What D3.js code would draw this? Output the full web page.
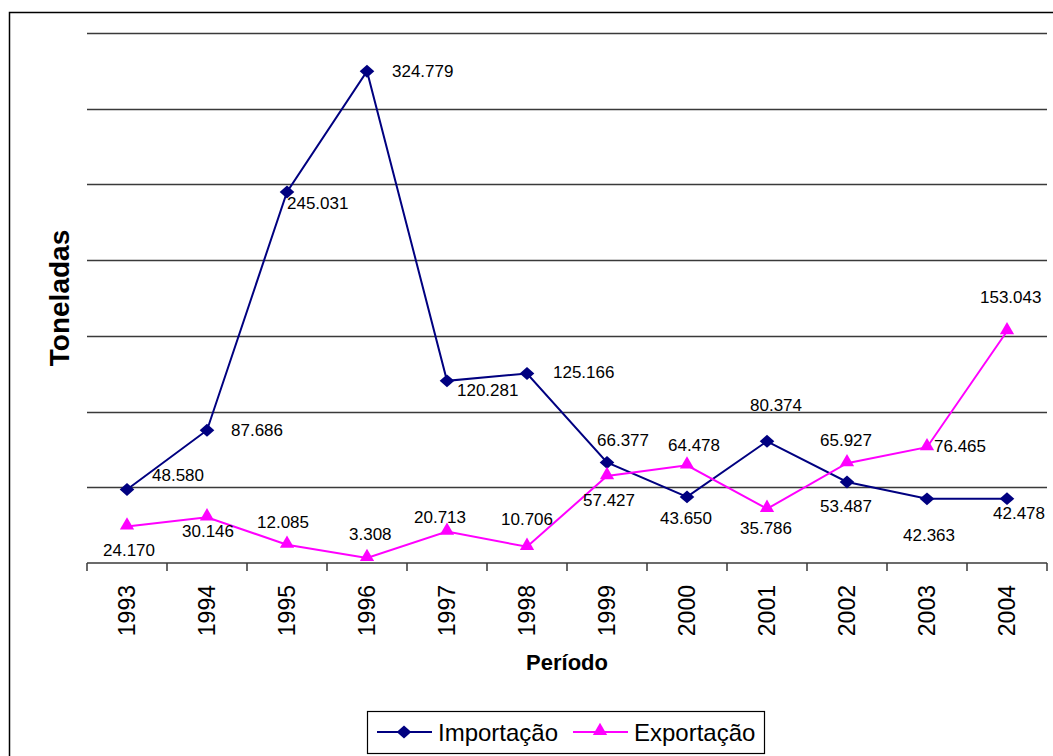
<!DOCTYPE html>
<html>
<head>
<meta charset="utf-8">
<script src="https://cdn.jsdelivr.net/npm/d3@7"></script>
<style>
  html, body { margin: 0; padding: 0; background: #fff; }
  text { font-family: "Liberation Sans", Arial, sans-serif; fill: #000; }
</style>
</head>
<body>
<svg id="chart" width="1053" height="756"></svg>
<script>
// ---- data ----
const years = ["1993","1994","1995","1996","1997","1998","1999","2000","2001","2002","2003","2004"];
const importacao = [48.580, 87.686, 245.031, 324.779, 120.281, 125.166, 66.377, 43.650, 80.374, 53.487, 42.363, 42.478];
const exportacao = [24.170, 30.146, 12.085, 3.308, 20.713, 10.706, 57.427, 64.478, 35.786, 65.927, 76.465, 153.043];
const importLabels = ["48.580","87.686","245.031","324.779","120.281","125.166","66.377","43.650","80.374","53.487","42.363","42.478"];
const exportLabels = ["24.170","30.146","12.085","3.308","20.713","10.706","57.427","64.478","35.786","65.927","76.465","153.043"];
const yTicks = [50, 100, 150, 200, 250, 300, 350];
const seriesNames = ["Importação", "Exportação"];

// ---- layout (label offsets relative to the marker) ----
const importOffsets = [[25,-14],[24,0],[0,12],[25,0],[10,10],[26,-1],[-10,-22],[-27,22],[-17,-36],[-27,24],[-24,37],[-14,15]];
const exportOffsets = [[-24,24],[-25,14],[-30,-22],[-18,-23],[-33,-14],[-26,-27],[-24,24],[-19,-20],[-27,20],[-27,-23],[7,-1],[-27,-34]];

const svg = d3.select("#chart");

// outer frame (extends beyond the window on right and bottom)
svg.append("rect").attr("x", 9.5).attr("y", 12.5).attr("width", 1200).attr("height", 900)
  .attr("fill", "none").attr("stroke", "#000").attr("stroke-width", 1.5);

const x = d3.scaleBand().domain(years).range([87, 1047]);
const y = d3.scaleLinear().domain([0, 350]).range([563, 33]);
const cx = d => x(d) + x.bandwidth() / 2;

// gridlines
svg.append("g").selectAll("line").data(yTicks).join("line")
  .attr("x1", 87).attr("x2", 1047)
  .attr("y1", d => Math.round(y(d)) + 0.5).attr("y2", d => Math.round(y(d)) + 0.5)
  .attr("stroke", "#3a3a3a").attr("stroke-width", 1.5);

// x axis
const xAxis = svg.append("g").attr("transform", `translate(0,${y(0)})`);
xAxis.append("line").attr("x1", 87).attr("x2", 1047).attr("stroke", "#3a3a3a").attr("stroke-width", 1.5);
const tickPos = years.map(d => x(d)).concat([x(years[years.length - 1]) + x.bandwidth()]);
xAxis.selectAll("line.tick").data(tickPos).join("line").attr("class", "tick")
  .attr("x1", d => d).attr("x2", d => d).attr("y1", 0).attr("y2", 8)
  .attr("stroke", "#3a3a3a").attr("stroke-width", 1.5);
xAxis.selectAll("text").data(years).join("text")
  .attr("transform", d => `translate(${cx(d)},22) rotate(-90)`)
  .attr("text-anchor", "end").attr("dominant-baseline", "central")
  .style("font-size", "23px").text(d => d);

// axis titles
svg.append("text").attr("x", 567).attr("y", 670).attr("text-anchor", "middle")
  .style("font-size", "22px").style("font-weight", "bold").text("Período");
svg.append("text").attr("transform", "translate(59,298) rotate(-90)")
  .attr("text-anchor", "middle").attr("dominant-baseline", "central")
  .style("font-size", "28px").style("font-weight", "bold").text("Toneladas");

const line = d3.line().x(d => cx(d[0])).y(d => y(d[1]));
const impData = years.map((d, i) => [d, importacao[i]]);
const expData = years.map((d, i) => [d, exportacao[i]]);

const diamondPath = d3.symbol().type(d3.symbolSquare).size(92)();
const triPath = d3.symbol().type(d3.symbolTriangle).size(88)();

// Importação
svg.append("path").datum(impData).attr("d", line)
  .attr("fill", "none").attr("stroke", "#000080").attr("stroke-width", 2);
svg.append("g").selectAll("path").data(impData).join("path")
  .attr("d", diamondPath)
  .attr("transform", d => `translate(${cx(d[0])},${y(d[1])}) scale(1.08,0.95) rotate(45)`)
  .attr("fill", "#000080");

// Exportação
svg.append("path").datum(expData).attr("d", line)
  .attr("fill", "none").attr("stroke", "#FF00FF").attr("stroke-width", 2);
svg.append("g").selectAll("path").data(expData).join("path")
  .attr("d", triPath)
  .attr("transform", d => `translate(${cx(d[0])},${y(d[1]) - 1})`)
  .attr("fill", "#FF00FF");

// data labels
svg.append("g").selectAll("text").data(impData).join("text")
  .attr("x", (d, i) => cx(d[0]) + importOffsets[i][0])
  .attr("y", (d, i) => y(d[1]) + importOffsets[i][1])
  .attr("dominant-baseline", "central").style("font-size", "17px")
  .text((d, i) => importLabels[i]);
svg.append("g").selectAll("text").data(expData).join("text")
  .attr("x", (d, i) => cx(d[0]) + exportOffsets[i][0])
  .attr("y", (d, i) => y(d[1]) + exportOffsets[i][1])
  .attr("dominant-baseline", "central").style("font-size", "17px")
  .text((d, i) => exportLabels[i]);

// legend
const lg = svg.append("g");
lg.append("rect").attr("x", 367.5).attr("y", 711.5).attr("width", 397).attr("height", 42)
  .attr("fill", "#fff").attr("stroke", "#000").attr("stroke-width", 1.2);
const ly = 732;
lg.append("line").attr("x1", 377).attr("x2", 432).attr("y1", ly).attr("y2", ly).attr("stroke", "#000080").attr("stroke-width", 2);
lg.append("path").attr("d", diamondPath).attr("transform", `translate(404,${ly}) scale(1.08,0.95) rotate(45)`).attr("fill", "#000080");
lg.append("text").attr("x", 438).attr("y", ly).attr("dominant-baseline", "central").style("font-size", "24px").text(seriesNames[0]);
lg.append("line").attr("x1", 573).attr("x2", 628).attr("y1", ly).attr("y2", ly).attr("stroke", "#FF00FF").attr("stroke-width", 2);
lg.append("path").attr("d", triPath).attr("transform", `translate(600,${ly - 1})`).attr("fill", "#FF00FF");
lg.append("text").attr("x", 634).attr("y", ly).attr("dominant-baseline", "central").style("font-size", "24px").text(seriesNames[1]);
</script>
</body>
</html>
